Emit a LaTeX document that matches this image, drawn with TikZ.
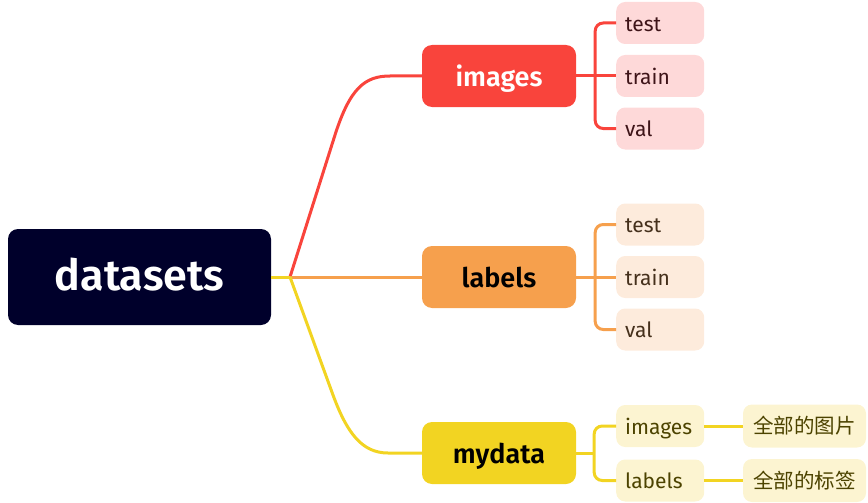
\documentclass[tikz,border=0pt]{standalone}
\usepackage{fontspec}
\setmainfont{Fira Sans}[BoldFont={Fira Sans SemiBold}]
\newfontfamily\cjk{Noto Sans CJK SC}
\definecolor{rootc}{HTML}{00002B}
\definecolor{redc}{HTML}{F9443C}
\definecolor{orangec}{HTML}{F6A04D}
\definecolor{yellowc}{HTML}{F2D422}
\definecolor{pinkc}{HTML}{FED9D9}
\definecolor{peachc}{HTML}{FDEBDC}
\definecolor{creamc}{HTML}{FCF4D1}
\definecolor{redtxt}{HTML}{3E1418}
\definecolor{orangetxt}{HTML}{45301C}
\definecolor{yellowtxt}{HTML}{4C4300}
\begin{document}
\begin{tikzpicture}[x=1pt,y=-1pt,
  rootbox/.style={fill=rootc, rounded corners=10pt, minimum width=263pt, minimum height=96pt, text=white, inner sep=0pt, text height=26pt, text depth=0pt, font=\bfseries\fontsize{43}{48}\selectfont},
  branchbox/.style={rounded corners=10pt, minimum width=154pt, minimum height=62pt, inner sep=0pt, text height=20pt, text depth=0pt, font=\bfseries\fontsize{27}{30}\selectfont},
  leafbox/.style={rounded corners=9pt, minimum height=42pt, text width=70pt, inner xsep=9pt, inner ysep=0pt, text height=16.5pt, text depth=0pt, align=left, anchor=west, font=\fontsize{21}{24}\selectfont},
  cnbox/.style={rounded corners=9pt, minimum width=123pt, minimum height=43pt, inner sep=0pt, fill=creamc, text=yellowtxt, font=\cjk\fontsize{20.5}{24}\selectfont},
  conn/.style={line width=3pt},
]
\useasboundingbox (0,0) rectangle (868,503);

% nodes
\node[rootbox] (root) at (139.5,277) {datasets};
\node[branchbox, fill=redc, text=white] (img) at (499,76) {images};
\node[branchbox, fill=orangec, text=black] (lab) at (499,277) {labels};
\node[branchbox, fill=yellowc, text=black] (my) at (499,453) {mydata};

\node[leafbox, fill=pinkc, text=redtxt] (it) at (616,23) {test};
\node[leafbox, fill=pinkc, text=redtxt] (itr) at (616,76) {train};
\node[leafbox, fill=pinkc, text=redtxt] (iv) at (616,128.5) {val};

\node[leafbox, fill=peachc, text=orangetxt] (lt) at (616,224.5) {test};
\node[leafbox, fill=peachc, text=orangetxt] (ltr) at (616,277) {train};
\node[leafbox, fill=peachc, text=orangetxt] (lv) at (616,329.5) {val};

\node[leafbox, fill=creamc, text=yellowtxt] (mi) at (616,426) {images};
\node[leafbox, fill=creamc, text=yellowtxt] (ml) at (616,480.5) {labels};

\node[cnbox] (ci) at (804.5,426) {全部的图片};
\node[cnbox] (cl) at (804.5,480.5) {全部的标签};

% junction points
\coordinate (j) at (290,277);
\coordinate (ib) at ([xshift=19pt]img.east);
\coordinate (lb) at ([xshift=19pt]lab.east);
\coordinate (mb) at ([xshift=18pt]my.east);

% main connectors
\draw[conn, draw=redc] (j) -- (335,135) .. controls (350,88) and (365,76) .. (390,76) -- (img.west);
\draw[conn, draw=orangec] (j) -- (lab.west);
\draw[conn, draw=yellowc] (j) -- (333,395) .. controls (347,433) and (362,453) .. (388,453) -- (my.west);
\draw[conn, draw=yellowc] (root.east) -- (j);

% images leaves
\draw[conn, draw=redc] (img.east) -- (itr.west);
\draw[conn, draw=redc, rounded corners=8pt] (it.west) -| (ib) |- (iv.west);
% labels leaves
\draw[conn, draw=orangec] (lab.east) -- (ltr.west);
\draw[conn, draw=orangec, rounded corners=8pt] (lt.west) -| (lb) |- (lv.west);
% mydata leaves
\draw[conn, draw=yellowc] (my.east) -- (mb);
\draw[conn, draw=yellowc, rounded corners=8pt] (mi.west) -| (mb) |- (ml.west);
\draw[conn, draw=yellowc] (mi.east) -- (ci.west);
\draw[conn, draw=yellowc] (ml.east) -- (cl.west);
\end{tikzpicture}
\end{document}
